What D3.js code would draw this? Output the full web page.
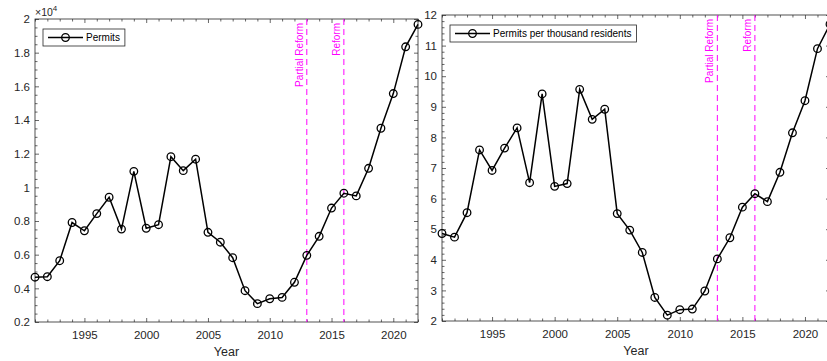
<!DOCTYPE html>
<html>
<head>
<meta charset="utf-8">
<script src="https://cdn.jsdelivr.net/npm/d3@7"></script>
<style>
  body { margin: 0; background: #fff; }
  svg { display: block; font-family: "Liberation Sans", Arial, sans-serif; }
</style>
</head>
<body>
<svg id="chart" width="827" height="361"></svg>
<script>
// data
const years = [1991, 1992, 1993, 1994, 1995, 1996, 1997, 1998, 1999, 2000,
  2001, 2002, 2003, 2004, 2005, 2006, 2007, 2008, 2009, 2010,
  2011, 2012, 2013, 2014, 2015, 2016, 2017, 2018, 2019, 2020, 2021, 2022];

// permits, in units of 10^4
const permits = [0.466, 0.469, 0.564, 0.791, 0.742, 0.844, 0.941, 0.752, 1.095, 0.757,
  0.778, 1.182, 1.099, 1.167, 0.733, 0.674, 0.582, 0.386, 0.309, 0.338,
  0.346, 0.436, 0.596, 0.709, 0.877, 0.965, 0.949, 1.113, 1.351, 1.557, 1.835, 1.968];

const permitsPerThousand = [4.86, 4.74, 5.54, 7.59, 6.92, 7.65, 8.31, 6.52, 9.42, 6.40,
  6.49, 9.57, 8.59, 8.92, 5.51, 4.97, 4.24, 2.77, 2.19, 2.37,
  2.39, 2.98, 4.03, 4.72, 5.72, 6.16, 5.90, 6.86, 8.15, 9.20, 10.90, 11.70];

const xTicks = [1995, 2000, 2005, 2010, 2015, 2020];
const leftYTicks = [0.2, 0.4, 0.6, 0.8, 1, 1.2, 1.4, 1.6, 1.8, 2];
const rightYTicks = [2, 3, 4, 5, 6, 7, 8, 9, 10, 11, 12];

const reformYears = [2013, 2016];
const reformLabels = ["Partial Reform", "Reform"];

const axisColor = "#262626";
const svg = d3.select("#chart");

function panel(opts) {
  const g = svg.append("g");
  const x = d3.scaleLinear().domain([1991, 2022]).range([opts.left, opts.right]);
  const y = d3.scaleLinear().domain(opts.yDomain).range([opts.bottom, opts.top]);

  const minorX = d3.range(1991, 2023).filter(v => !xTicks.includes(v));
  const minorY = d3.range(opts.yDomain[0], opts.yDomain[1] + 1e-9, opts.minorStep)
    .filter(v => !opts.yTicks.some(t => Math.abs(t - v) < 1e-6));

  const style = sel => {
    sel.select(".domain").remove();
    sel.selectAll("line").attr("stroke", axisColor).attr("stroke-width", 0.7);
    sel.selectAll("text").attr("fill", axisColor).style("font-size", "11.5px")
      .style("font-family", "'Liberation Sans', Arial, sans-serif");
  };

  // bottom
  g.append("g").attr("transform", `translate(0,${opts.bottom})`)
    .call(d3.axisBottom(x).tickValues(xTicks).tickSize(-4).tickPadding(9).tickFormat(d3.format("d")))
    .call(style);
  g.append("g").attr("transform", `translate(0,${opts.bottom})`)
    .call(d3.axisBottom(x).tickValues(minorX).tickSize(-2.5).tickFormat(""))
    .call(style);
  // top
  g.append("g").attr("transform", `translate(0,${opts.top})`)
    .call(d3.axisTop(x).tickValues(xTicks).tickSize(-4).tickFormat(""))
    .call(style);
  g.append("g").attr("transform", `translate(0,${opts.top})`)
    .call(d3.axisTop(x).tickValues(minorX).tickSize(-2.5).tickFormat(""))
    .call(style);
  // left
  g.append("g").attr("transform", `translate(${opts.left},0)`)
    .call(d3.axisLeft(y).tickValues(opts.yTicks).tickSize(-4).tickPadding(5).tickFormat(d3.format("~g")))
    .call(style);
  g.append("g").attr("transform", `translate(${opts.left},0)`)
    .call(d3.axisLeft(y).tickValues(minorY).tickSize(-2.5).tickFormat(""))
    .call(style);
  // right
  g.append("g").attr("transform", `translate(${opts.right},0)`)
    .call(d3.axisRight(y).tickValues(opts.yTicks).tickSize(-4).tickFormat(""))
    .call(style);
  g.append("g").attr("transform", `translate(${opts.right},0)`)
    .call(d3.axisRight(y).tickValues(minorY).tickSize(-2.5).tickFormat(""))
    .call(style);

  // box
  g.append("rect")
    .attr("x", opts.left).attr("y", opts.top)
    .attr("width", opts.right - opts.left).attr("height", opts.bottom - opts.top)
    .attr("fill", "none").attr("stroke", axisColor).attr("stroke-width", 0.8);

  // x label
  g.append("text")
    .attr("x", (opts.left + opts.right) / 2).attr("y", opts.bottom + 34)
    .attr("text-anchor", "middle").attr("fill", axisColor)
    .style("font-size", "12.5px").text("Year");

  // exponent
  if (opts.exponent) {
    const t = g.append("text").attr("x", opts.left).attr("y", opts.top - 3)
      .attr("fill", axisColor).style("font-size", "10.5px");
    t.append("tspan").text("\u00d7" + "10");
    t.append("tspan").attr("dy", -5).style("font-size", "8px").text(opts.exponent);
  }

  // reform lines
  reformYears.forEach((yr, i) => {
    g.append("line")
      .attr("x1", x(yr)).attr("x2", x(yr))
      .attr("y1", opts.top).attr("y2", opts.bottom)
      .attr("stroke", "#ff00ff").attr("stroke-width", 1)
      .attr("stroke-dasharray", "6,4");
    g.append("text")
      .attr("transform", `translate(${x(yr) - 4},${opts.top + 4}) rotate(-90)`)
      .attr("text-anchor", "end").attr("fill", "#ff00ff")
      .style("font-size", "10px").text(reformLabels[i]);
  });

  // series
  const line = d3.line().x((d, i) => x(years[i])).y(d => y(d));
  g.append("path").datum(opts.values)
    .attr("d", line).attr("fill", "none")
    .attr("stroke", "#000").attr("stroke-width", 1.5);
  g.selectAll("circle.pt").data(opts.values).join("circle")
    .attr("class", "pt")
    .attr("cx", (d, i) => x(years[i])).attr("cy", d => y(d))
    .attr("r", 3.8).attr("fill", "none")
    .attr("stroke", "#000").attr("stroke-width", 1.3);

  // legend
  const lx = opts.left + 8, ly = opts.top + 10, lh = 17;
  const box = g.append("rect").attr("x", lx).attr("y", ly).attr("height", lh)
    .attr("fill", "#fff").attr("stroke", axisColor).attr("stroke-width", 0.8);
  g.append("line").attr("x1", lx + 5).attr("x2", lx + 40)
    .attr("y1", ly + lh / 2).attr("y2", ly + lh / 2)
    .attr("stroke", "#000").attr("stroke-width", 1.5);
  g.append("circle").attr("cx", lx + 22.5).attr("cy", ly + lh / 2).attr("r", 3.8)
    .attr("fill", "none").attr("stroke", "#000").attr("stroke-width", 1.3);
  const lt = g.append("text").attr("x", lx + 43).attr("y", ly + lh / 2 + 3.6)
    .attr("fill", "#000").style("font-size", "10px").text(opts.label);
  box.attr("width", lt.node().getComputedTextLength() + 48);
}

panel({
  left: 35, right: 418, top: 19, bottom: 322,
  yDomain: [0.2, 2], yTicks: leftYTicks, minorStep: 0.05,
  values: permits, label: "Permits", exponent: "4"
});

panel({
  left: 442, right: 830, top: 15, bottom: 321,
  yDomain: [2, 12], yTicks: rightYTicks, minorStep: 0.2,
  values: permitsPerThousand, label: "Permits per thousand residents"
});
</script>
</body>
</html>
